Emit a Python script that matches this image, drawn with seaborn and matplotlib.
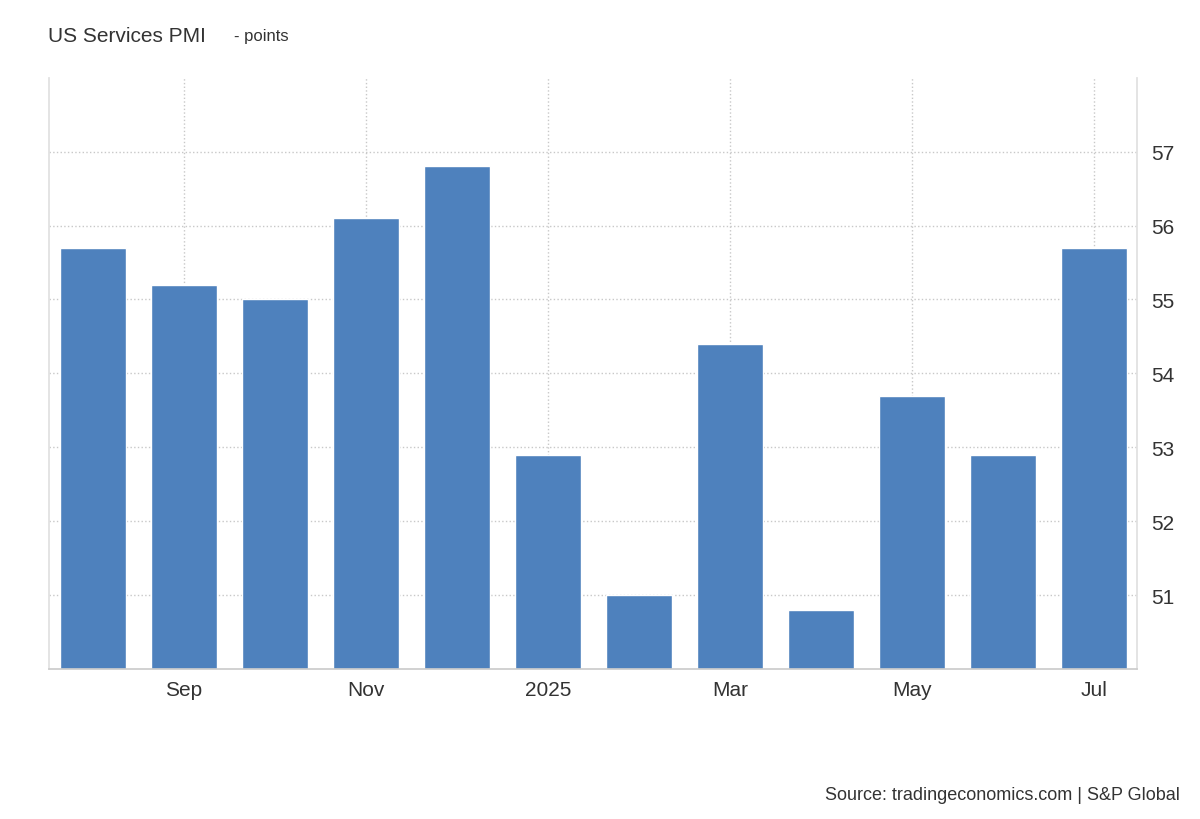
import matplotlib
matplotlib.use("Agg")
import matplotlib.pyplot as plt
import seaborn as sns
import pandas as pd

months = ["Aug","Sep","Oct","Nov","Dec","Jan","Feb","Mar","Apr","May","Jun","Jul"]
values = [55.7, 55.2, 55.0, 56.1, 56.8, 52.9, 51.0, 54.4, 50.8, 53.7, 52.9, 55.7]
tick_labels = {"Sep": "Sep", "Nov": "Nov", "Jan": "2025", "Mar": "Mar", "May": "May", "Jul": "Jul"}

sns.set_theme(style="white")
plt.rcParams['font.family'] = ['Arial', 'Liberation Sans', 'DejaVu Sans']

df = pd.DataFrame({"month": months, "value": values})
fig = plt.figure(figsize=(12, 8.2), dpi=100)
ax = fig.add_axes([0.041, 0.183, 0.9065, 0.721])
sns.barplot(data=df, x="month", y="value", color="#4e81bd", saturation=1, width=0.72, ax=ax, zorder=2)
ax.set_ylim(50, 58)
ax.set_xlim(-0.48, 11.47)

pos = [i for i, m in enumerate(months) if m in tick_labels]
ax.set_xticks(pos)
ax.set_xticklabels([tick_labels[months[i]] for i in pos], fontsize=15, color="#333333")
ax.set_yticks([51, 52, 53, 54, 55, 56, 57])
ax.yaxis.tick_right()
ax.tick_params(axis="y", labelsize=15, labelcolor="#333333", length=0, pad=10)
ax.tick_params(axis="x", length=0, pad=8)
ax.grid(True, axis="both", linestyle=":", color="#c8c8c8", linewidth=1, zorder=0)
ax.set_axisbelow(True)
ax.set_xlabel("")
ax.set_ylabel("")
for s in ["top"]:
    ax.spines[s].set_visible(False)
for s in ["left", "right"]:
    ax.spines[s].set_color("#e0e0e0")
ax.spines["bottom"].set_color("#cccccc")

fig.text(0.04, 0.955, "US Services PMI", fontsize=15, color="#333333", va="center")
fig.text(0.195, 0.955, "- points", fontsize=12, color="#333333", va="center")
fig.text(0.983, 0.03, "Source: tradingeconomics.com | S&P Global", fontsize=13, color="#333333", ha="right", va="center")
fig.savefig("out.png", dpi=100)
